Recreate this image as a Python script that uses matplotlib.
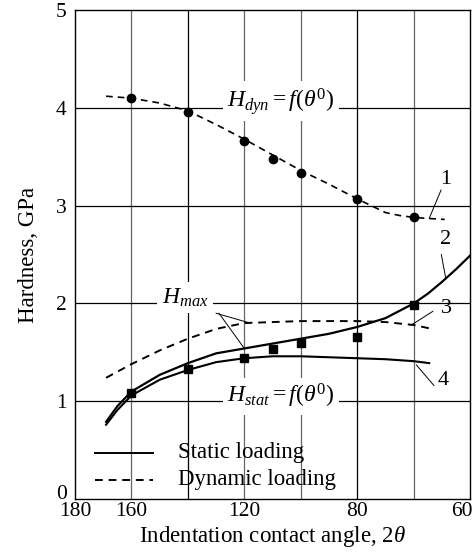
import matplotlib.pyplot as plt
import matplotlib.transforms as mtransforms

plt.rcParams['font.family'] = 'Liberation Serif'
plt.rcParams['mathtext.fontset'] = 'custom'
plt.rcParams['mathtext.rm'] = 'Liberation Serif'
plt.rcParams['mathtext.it'] = 'Liberation Serif:italic'

# measured points (indentation angle, hardness GPa)
angles_pts = [160, 140, 120, 110, 100, 80, 60]
h_dyn_pts = [4.10, 3.96, 3.66, 3.48, 3.33, 3.07, 2.88]
h_stat_pts = [1.08, 1.33, 1.44, 1.53, 1.60, 1.66, 1.98]

# curve 1: dynamic hardness
c1_x = [169, 160, 150, 140, 130, 120, 110, 100, 90, 80, 70, 65, 60, 55, 49]
c1_y = [4.12, 4.10, 4.05, 3.97, 3.83, 3.68, 3.52, 3.36, 3.22, 3.07, 2.93, 2.90, 2.88, 2.87, 2.86]
# curve 2: static Hmax
c2_x = [169, 165, 160, 150, 140, 130, 120, 110, 100, 90, 80, 70, 60, 55, 50, 45, 40]
c2_y = [0.79, 0.95, 1.10, 1.27, 1.39, 1.49, 1.54, 1.59, 1.64, 1.69, 1.76, 1.85, 2.00, 2.10, 2.22, 2.35, 2.49]
# curve 3: dynamic Hmax
c3_x = [169, 160, 150, 140, 130, 120, 110, 100, 90, 80, 70, 60, 53.5]
c3_y = [1.24, 1.38, 1.52, 1.64, 1.74, 1.80, 1.81, 1.82, 1.82, 1.82, 1.81, 1.78, 1.74]
# curve 4: static hardness
c4_x = [169, 165, 160, 150, 140, 130, 120, 110, 100, 90, 80, 70, 60, 54.5]
c4_y = [0.76, 0.91, 1.06, 1.22, 1.32, 1.40, 1.44, 1.46, 1.46, 1.45, 1.44, 1.43, 1.41, 1.39]

fig = plt.figure(figsize=(4.72, 5.53), dpi=100)
ax = fig.add_axes([0.159, 0.0976, 0.837, 0.884])
ax.set_xlim(180, 40)
ax.set_ylim(0, 5)

for gx, gc in [(160, '0.4'), (140, 'black'), (120, '0.4'), (100, '0.4'), (80, 'black'), (60, '0.4')]:
    ax.axvline(gx, color=gc, lw=0.9, zorder=1)
for gy in [1, 2, 3, 4]:
    ax.axhline(gy, color='black', lw=0.9, zorder=1)

dash = (0, (4, 3))
ax.plot(c1_x, c1_y, color='black', lw=1.2, ls=dash, zorder=3)
ax.plot(c2_x, c2_y, color='black', lw=1.6, zorder=3)
ax.plot(c3_x, c3_y, color='black', lw=1.4, ls=dash, zorder=3)
ax.plot(c4_x, c4_y, color='black', lw=1.5, zorder=3)
ax.plot(angles_pts, h_dyn_pts, 'o', color='black', ms=6, zorder=4)
ax.plot(angles_pts, h_stat_pts, 's', color='black', ms=6, zorder=4)

box = dict(facecolor='white', edgecolor='none', pad=3)
ax.text(107, 4.07, r'$H_{dyn} = f(\theta^{0})$', fontsize=17, ha='center', va='center',
        bbox=box, zorder=2)
ax.text(107, 1.05, r'$H_{stat} = f(\theta^{0})$', fontsize=17, ha='center', va='center',
        bbox=box, zorder=2)
ax.text(141, 2.06, r'$H_{max}$', fontsize=17, ha='center', va='center', bbox=box, zorder=2)
ax.plot([130, 118], [1.90, 1.80], color='black', lw=0.7, zorder=3)
ax.plot([129, 120], [1.90, 1.54], color='black', lw=0.7, zorder=3)

# curve numbers with leaders
ax.text(48.6, 3.27, '1', fontsize=16, ha='center', va='center', zorder=5)
ax.plot([50.3, 54.5], [3.16, 2.87], color='black', lw=0.7, zorder=3)
ax.text(48.6, 2.65, '2', fontsize=16, ha='center', va='center', zorder=5)
ax.plot([50.2, 48.7], [2.50, 2.27], color='black', lw=0.7, zorder=3)
ax.text(48.3, 1.95, '3', fontsize=16, ha='center', va='center', zorder=5)
ax.plot([53.2, 60.8], [1.92, 1.78], color='black', lw=0.7, zorder=3)
ax.text(49.5, 1.21, '4', fontsize=16, ha='center', va='center', zorder=5)
ax.plot([52.8, 59], [1.16, 1.37], color='black', lw=0.7, zorder=3)

# legend drawn by hand in the lower left
ax.plot([173.0, 152.5], [0.47, 0.47], color='black', lw=1.4, zorder=3)
ax.plot([173.0, 152.5], [0.19, 0.19], color='black', lw=1.4, ls=dash, zorder=3)
ax.text(143.5, 0.48, 'Static loading', fontsize=16.5, ha='left', va='center')
ax.text(143.5, 0.20, 'Dynamic loading', fontsize=16.5, ha='left', va='center')

ax.set_xticks([180, 160, 120, 80, 43])
ax.set_xticklabels(['180', '160', '120', '80', '60'])
ax.set_yticks([0, 1, 2, 3, 4, 5])
ax.tick_params(length=0, labelsize=15.5, pad=2)
ax.tick_params(axis='y', pad=6)
for sp in ax.spines.values():
    sp.set_linewidth(1.0)

# lift the "0" label a little so it clears "180"
zero_lbl = ax.get_yticklabels()[0]
zero_lbl.set_transform(zero_lbl.get_transform() +
                       mtransforms.ScaledTranslation(0, 5 / 72, fig.dpi_scale_trans))

ax.set_xlabel(r'Indentation contact angle, 2$\theta$', fontsize=16.5, labelpad=2)
ax.set_ylabel('Hardness, GPa', fontsize=16.5, labelpad=12)

fig.savefig('out.png', dpi=100)
